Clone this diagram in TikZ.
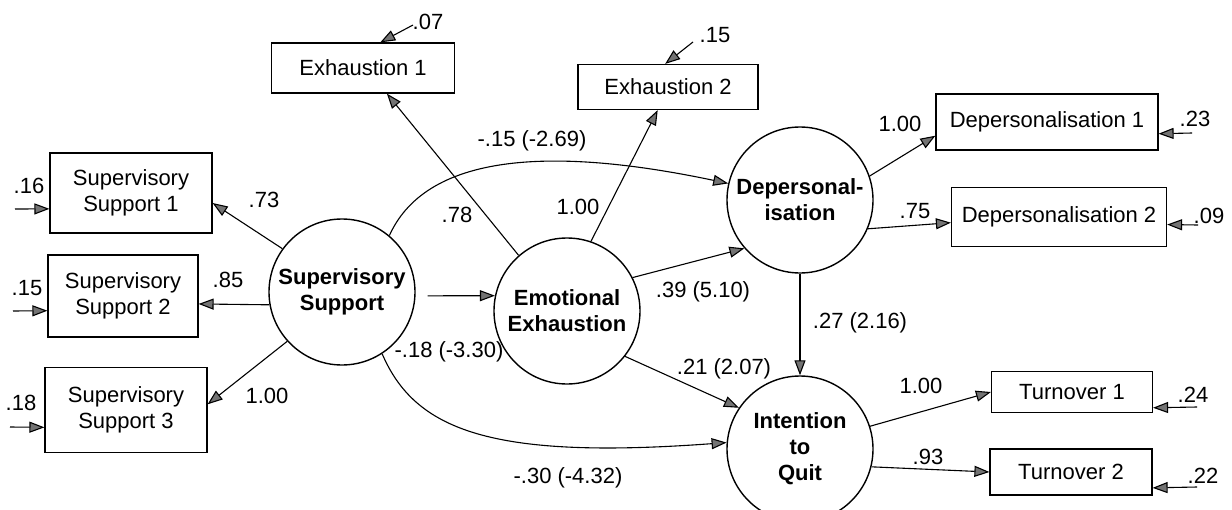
\documentclass[tikz,border=0pt]{standalone}
\usepackage{fontspec}
\setmainfont{Liberation Sans}
\usepackage{tikz}
\usetikzlibrary{arrows.meta}
\tikzset{
  latente/.style={draw, circle, line width=0.7pt, minimum size=73pt, inner sep=0pt, align=center, font=\fontsize{11}{13}\selectfont\bfseries},
  medida/.style={draw, line width=0.6pt, inner sep=0pt, align=center, font=\fontsize{11}{13}\selectfont},
  arrflow/.style={-{Triangle[length=7.5pt, width=5.5pt, fill=black!55]}, line width=0.55pt},
  coef/.style={inner sep=0pt, font=\fontsize{11}{13}\selectfont},
}

\begin{document}
\begin{tikzpicture}[x=0.5pt, y=-0.5pt]
\useasboundingbox (0,0) rectangle (1232,509);
\clip (0,0) rectangle (1232,509);

% latent variables
\node[latente] (ss) at (342,292) {Supervisory\\Support};
\node[latente] (ee) at (567,311) {Emotional\\Exhaustion};
\node[latente] (dep) at (800,200) {Depersonal-\\isation};
\node[latente] (quit) at (800,449) {Intention\\to\\Quit};

% indicators
\node[medida, minimum width=91.5pt, minimum height=25pt] (ex1) at (363,68) {Exhaustion 1};
\node[medida, minimum width=90pt, minimum height=22.5pt] (ex2) at (668,87) {Exhaustion 2};
\node[medida, minimum width=81pt, minimum height=40pt] (sv1) at (131,193) {Supervisory\\Support 1};
\node[medida, minimum width=75pt, minimum height=41pt] (sv2) at (123,296) {Supervisory\\Support 2};
\node[medida, minimum width=81pt, minimum height=42.5pt] (sv3) at (126,410) {Supervisory\\Support 3};
\node[medida, minimum width=111pt, minimum height=28pt] (dp1) at (1047,122) {Depersonalisation 1};
\node[medida, minimum width=107.5pt, minimum height=29.5pt] (dp2) at (1059,217) {Depersonalisation 2};
\node[medida, minimum width=80.5pt, minimum height=20.5pt] (tv1) at (1072,392) {Turnover 1};
\node[medida, minimum width=81pt, minimum height=23pt] (tv2) at (1071,472) {Turnover 2};

% paths
\draw[arrflow] (ss.144) -- (sv1.-7);
\draw[arrflow] (ss.190) -- (sv2.-6);
\draw[arrflow] (ss.222) -- (sv3.4);
\draw[arrflow, shorten <=6pt] (ss.-3) -- (ee.168);
\draw[arrflow] (ss.50) .. controls (428,150) and (560,148) .. (dep.167);
\draw[arrflow] (ss.-57) .. controls (415,430) and (490,460) .. (quit.175);
\draw[arrflow] (ee.131) -- (ex1.-47);
\draw[arrflow] (ee.71) -- (ex2.246);
\draw[arrflow] (ee.27) -- (dep.221);
\draw[arrflow] (ee.-38) -- (quit.146);
\draw[arrflow] (dep) -- (quit);
\draw[arrflow] (dep.19) -- (dp1.187);
\draw[arrflow] (dep.-23) -- (dp2.183);
\draw[arrflow] (quit.18) -- (tv1.west);
\draw[arrflow] (quit.-14) -- (tv2.west);

% coefficients
\node[coef] (w-sv1) at (264,200) {.73};
\node[coef] (w-sv2) at (228,280) {.85};
\node[coef] (w-sv3) at (267,396) {1.00};
\node[coef] (w-ex1) at (457,215) {.78};
\node[coef] (w-ex2) at (578,207) {1.00};
\node[coef] (w-ssdep) at (532,141) {-.15 (-2.69)};
\node[coef] (w-ssee) at (449,352) {-.18 (-3.30)};
\node[coef] (w-ssquit) at (568,478) {-.30 (-4.32)};
\node[coef] (w-eedep) at (703,292) {.39 (5.10)};
\node[coef] (w-eequit) at (724,369) {.21 (2.07)};
\node[coef] (w-depquit) at (860,323) {.27 (2.16)};
\node[coef] (w-dp1) at (900,124) {1.00};
\node[coef] (w-dp2) at (915,211) {.75};
\node[coef] (w-tv1) at (921,386) {1.00};
\node[coef] (w-tv2) at (928,457) {.93};

% error terms
\coordinate (r-ex1) at (413,25);
\coordinate (r-ex2) at (693,42);
\coordinate (r-sv1) at (15,209);
\coordinate (r-sv2) at (13,311);
\coordinate (r-sv3) at (10,427);
\coordinate (r-dp1) at (1192,133);
\coordinate (r-dp2) at (1198,225);
\coordinate (r-tv1) at (1197,407);
\coordinate (r-tv2) at (1197,487);
\draw[arrflow] (r-ex1) -- (ex1.56);
\draw[arrflow] (r-ex2) -- (ex2.97);
\draw[arrflow] (r-sv1) -- (sv1.191);
\draw[arrflow] (r-sv2) -- (sv2.191);
\draw[arrflow] (r-sv3) -- (sv3.192);
\draw[arrflow] (r-dp1) -- (dp1.-6);
\draw[arrflow] (r-dp2) -- (dp2.-4);
\draw[arrflow] (r-tv1) -- (tv1.-11);
\draw[arrflow] (r-tv2) -- (tv2.-11);
\node[coef] (e-ex1) at (428,22) {.07};
\node[coef] (e-ex2) at (715,35) {.15};
\node[coef] (e-sv1) at (29,186) {.16};
\node[coef] (e-sv2) at (27,288) {.15};
\node[coef] (e-sv3) at (21,403) {.18};
\node[coef] (e-dp1) at (1195,119) {.23};
\node[coef] (e-dp2) at (1209,216) {.09};
\node[coef] (e-tv1) at (1193,395) {.24};
\node[coef] (e-tv2) at (1203,476) {.22};
\end{tikzpicture}
\end{document}
